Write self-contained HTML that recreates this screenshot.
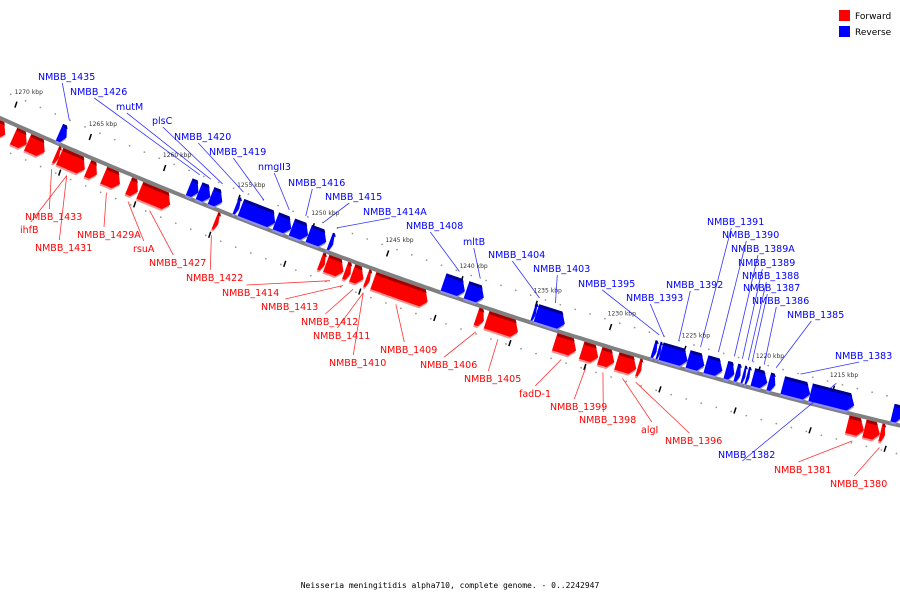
<!DOCTYPE html>
<html><head><meta charset="utf-8"><style>
html,body{margin:0;padding:0;background:#fff;}
svg{display:block;font-family:"DejaVu Sans","Liberation Sans",sans-serif;}
</style></head><body>
<svg id="chart" width="900" height="600" viewBox="0 0 900 600">
<g id="ticks"></g>
<path id="backbone" fill="none" stroke="#808080" stroke-width="4"/>
<g id="genes"></g>
<g id="leaders"></g>
<g id="labels"></g>
<g>
<rect x="839" y="10" width="11" height="11" fill="#ff0000"/>
<text x="855" y="19" font-size="9" fill="#000">Forward</text>
<rect x="839" y="26" width="11" height="11" fill="#0000ff"/>
<text x="855" y="35" font-size="9" fill="#000">Reverse</text>
</g>
<text x="450" y="588" font-size="8" text-anchor="middle" fill="#000" font-family="'DejaVu Sans Mono','Liberation Mono',monospace">Neisseria meningitidis alpha710, complete genome. - 0..2242947</text>
</svg>
<script>
// gene data (kbp start/end, strand)
const geneNames = ["f1","f2","f3","NMBB_1435","NMBB_1433","NMBB_1431","ihfB","NMBB_1429A","rsuA","NMBB_1427","NMBB_1426","mutM","plsC","NMBB_1422","NMBB_1420","NMBB_1419","nmgII3","NMBB_1416","NMBB_1415","NMBB_1414A","r1","NMBB_1414","NMBB_1413","NMBB_1412","NMBB_1411","NMBB_1409","NMBB_1408","mltB","NMBB_1406","NMBB_1405","NMBB_1404","NMBB_1403","fadD-1","NMBB_1399","NMBB_1398","algI","NMBB_1396","NMBB_1395","NMBB_1393","NMBB_1392","NMBB_1391","NMBB_1390","NMBB_1389A","NMBB_1389","NMBB_1388","NMBB_1387","NMBB_1386","NMBB_1385","NMBB_1383","NMBB_1382b","NMBB_1381","NMBB_1380b","NMBB_1380","b9"];
const geneStart = [1271.3,1269.80,1268.86,1267.32,1266.99,1266.72,1264.84,1263.77,1262.10,1261.36,1258.61,1257.94,1257.14,1256.34,1255.47,1255.13,1252.79,1251.71,1250.58,1249.17,1249.30,1248.90,1247.63,1247.16,1246.22,1245.75,1241.53,1239.99,1238.85,1238.18,1235.51,1235.30,1233.63,1231.82,1230.62,1229.48,1228.07,1227.47,1227.13,1226.93,1225.12,1223.92,1222.58,1221.91,1221.44,1221.17,1220.77,1219.70,1218.76,1216.89,1214.07,1212.93,1211.86,1211.39];
const geneEnd = [1270.3,1268.86,1267.66,1266.79,1266.72,1264.98,1264.17,1262.63,1261.43,1259.28,1257.94,1257.14,1256.34,1256.07,1255.20,1252.79,1251.71,1250.58,1249.37,1248.90,1248.95,1247.70,1247.23,1246.36,1245.95,1242.07,1240.06,1238.79,1238.32,1236.04,1235.30,1233.36,1232.16,1230.68,1229.61,1228.14,1227.80,1227.20,1226.93,1225.12,1223.99,1222.78,1221.98,1221.57,1221.24,1220.97,1219.77,1219.23,1216.89,1213.94,1212.93,1211.86,1211.53,1210.72];
const geneStrand = [1,1,1,-1,1,1,1,1,1,1,-1,-1,-1,1,-1,-1,-1,-1,-1,-1,1,1,1,1,1,1,-1,-1,1,1,-1,-1,1,1,1,1,1,-1,-1,-1,-1,-1,-1,-1,-1,-1,-1,-1,-1,-1,1,1,1,-1];
// labels: text, x, baseline y, target gene index
const labelText = ["NMBB_1435","NMBB_1426","mutM","plsC","NMBB_1420","NMBB_1419","nmgII3","NMBB_1416","NMBB_1415","NMBB_1414A","NMBB_1408","mltB","NMBB_1404","NMBB_1403","NMBB_1395","NMBB_1393","NMBB_1392","NMBB_1391","NMBB_1390","NMBB_1389A","NMBB_1389","NMBB_1388","NMBB_1387","NMBB_1386","NMBB_1385","NMBB_1383","NMBB_1382",
"NMBB_1433","ihfB","NMBB_1431","NMBB_1429A","rsuA","NMBB_1427","NMBB_1422","NMBB_1414","NMBB_1413","NMBB_1412","NMBB_1411","NMBB_1410","NMBB_1409","NMBB_1406","NMBB_1405","fadD-1","NMBB_1399","NMBB_1398","algI","NMBB_1396","NMBB_1381","NMBB_1380"];
const labelX = [38,70,116,152,174,209,258,288,325,363,406,463,488,533,578,626,666,707,722,731,738,742,743,752,787,835,718,
25,20,35,77,133,149,186,222,261,301,313,329,380,420,464,519,550,579,641,665,774,830];
const labelY = [80,95,110,124,140,155,170,186,200,215,229,245,258,272,287,301,288,225,238,252,266,279,291,304,318,359,458,
220,233,251,238,252,266,281,296,310,325,339,366,353,368,382,397,410,423,433,444,473,487];
const labelGene = [3,10,11,12,14,15,16,17,18,19,26,27,30,31,37,38,39,40,41,42,43,44,45,46,47,48,49,
4,5,5,7,8,9,13,21,22,23,24,24,25,28,29,32,33,34,35,36,50,52];
// scale
const tickKbp = [1270,1265,1260,1255,1250,1245,1240,1235,1230,1225,1220,1215];

const NS="http://www.w3.org/2000/svg";
function xOf(k){return 15+(1270-k)*14.93;}
function Y(x){return 118+0.448*x-0.000118*x*x;}
function dY(x){return 0.448-0.000236*x;}
function off(x,d){const a=Math.atan(dY(x));return [x-Math.sin(a)*d, Y(x)+Math.cos(a)*d];}
function mk(tag,attrs,parent){const e=document.createElementNS(NS,tag);for(const k in attrs)e.setAttribute(k,attrs[k]);parent.appendChild(e);return e;}

let d="";for(let x=-10;x<=910;x+=5){d+=(x===-10?"M":"L")+x+","+Y(x).toFixed(1);}
document.getElementById("backbone").setAttribute("d",d);

const tg=document.getElementById("ticks");
for(let k=1272;k>=1209;k--){
  const x=xOf(k);
  const p1=off(x,-26),p2=off(x+7,28);
  const dt=mk("circle",{cx:p1[0],cy:p1[1],r:0.9,fill:"#999"},tg);
  
  
  const db=mk("circle",{cx:p2[0],cy:p2[1],r:0.9,fill:"#999"},tg);
  
  
}
tickKbp.forEach(k=>{
  const x=xOf(k);
  const p=off(x,-22);
  const t=mk("line",{x1:p[0]-9,y1:p[1]+3,x2:p[0]-7,y2:p[1]-3,stroke:"#000","stroke-width":1.5},tg);
  
  
  const q=off(x+55,26);
  const t2=mk("line",{x1:q[0]-1,y1:q[1]+3,x2:q[0]+1,y2:q[1]-3,stroke:"#000","stroke-width":1.5},tg);
  
  
  const l=off(x,-36);
  const tx=mk("text",{x:l[0]-15,y:l[1]+2,"font-size":6,fill:"#333"},tg);
  tx.textContent=k+" kbp";
  
  
});

const gg=document.getElementById("genes");
const geneMid=[];
geneNames.forEach((n,i)=>{
  const x1=xOf(geneStart[i]),x2=xOf(geneEnd[i]);
  const xm=(x1+x2)/2,ym=Y(xm);
  const a=Math.atan(dY(xm));
  const L=(x2-x1)/Math.cos(a);
  const h=L/2,head=Math.min(6,L*0.5);
  const fwd=geneStrand[i]>0;
  const v0=fwd?2:-20,v1=fwd?20:-2;
  const main=fwd?"#ff0000":"#0000ff",dark=fwd?"#a00000":"#000090",light=fwd?"#ff9090":"#9090ff";
  const g=mk("g",{transform:`translate(${xm.toFixed(1)},${ym.toFixed(1)}) rotate(${(a*180/Math.PI).toFixed(2)})`},gg);
  
  
  const vm=(v0+v1)/2+2;
  mk("polygon",{points:`${-h},${v0+4} ${h-head},${v0+4} ${h},${vm+2} ${h-head},${v1+2} ${-h},${v1+2}`,fill:light},g);
  mk("polygon",{points:`${-h},${v0} ${h-head},${v0} ${h},${vm} ${h-head},${v1} ${-h},${v1}`,fill:main},g);
  mk("polygon",{points:`${-h},${v0} ${h-head},${v0} ${h-head+2},${v0+3} ${-h+1},${v0+3}`,fill:dark},g);
  geneMid.push(xm);
});

const lg=document.getElementById("labels"),ld=document.getElementById("leaders");
labelText.forEach((t,i)=>{
  const gi=labelGene[i];
  const fwd=geneStrand[gi]>0;
  const col=fwd?"#ff0000":"#0000ff";
  const tx=mk("text",{x:labelX[i],y:labelY[i],"font-size":9.5,fill:col},lg);
  tx.textContent=t;
  
  
  const w=t.length*6;
  const sx=labelX[i]+w*0.45, sy=fwd?labelY[i]-11:labelY[i]+3;
  const e=off(geneMid[gi],fwd?26:-26);
  const ln=mk("line",{x1:sx,y1:sy,x2:e[0],y2:e[1],stroke:col,"stroke-width":0.8,"stroke-opacity":0.8},ld);
  
  
});
</script>
</body></html>
